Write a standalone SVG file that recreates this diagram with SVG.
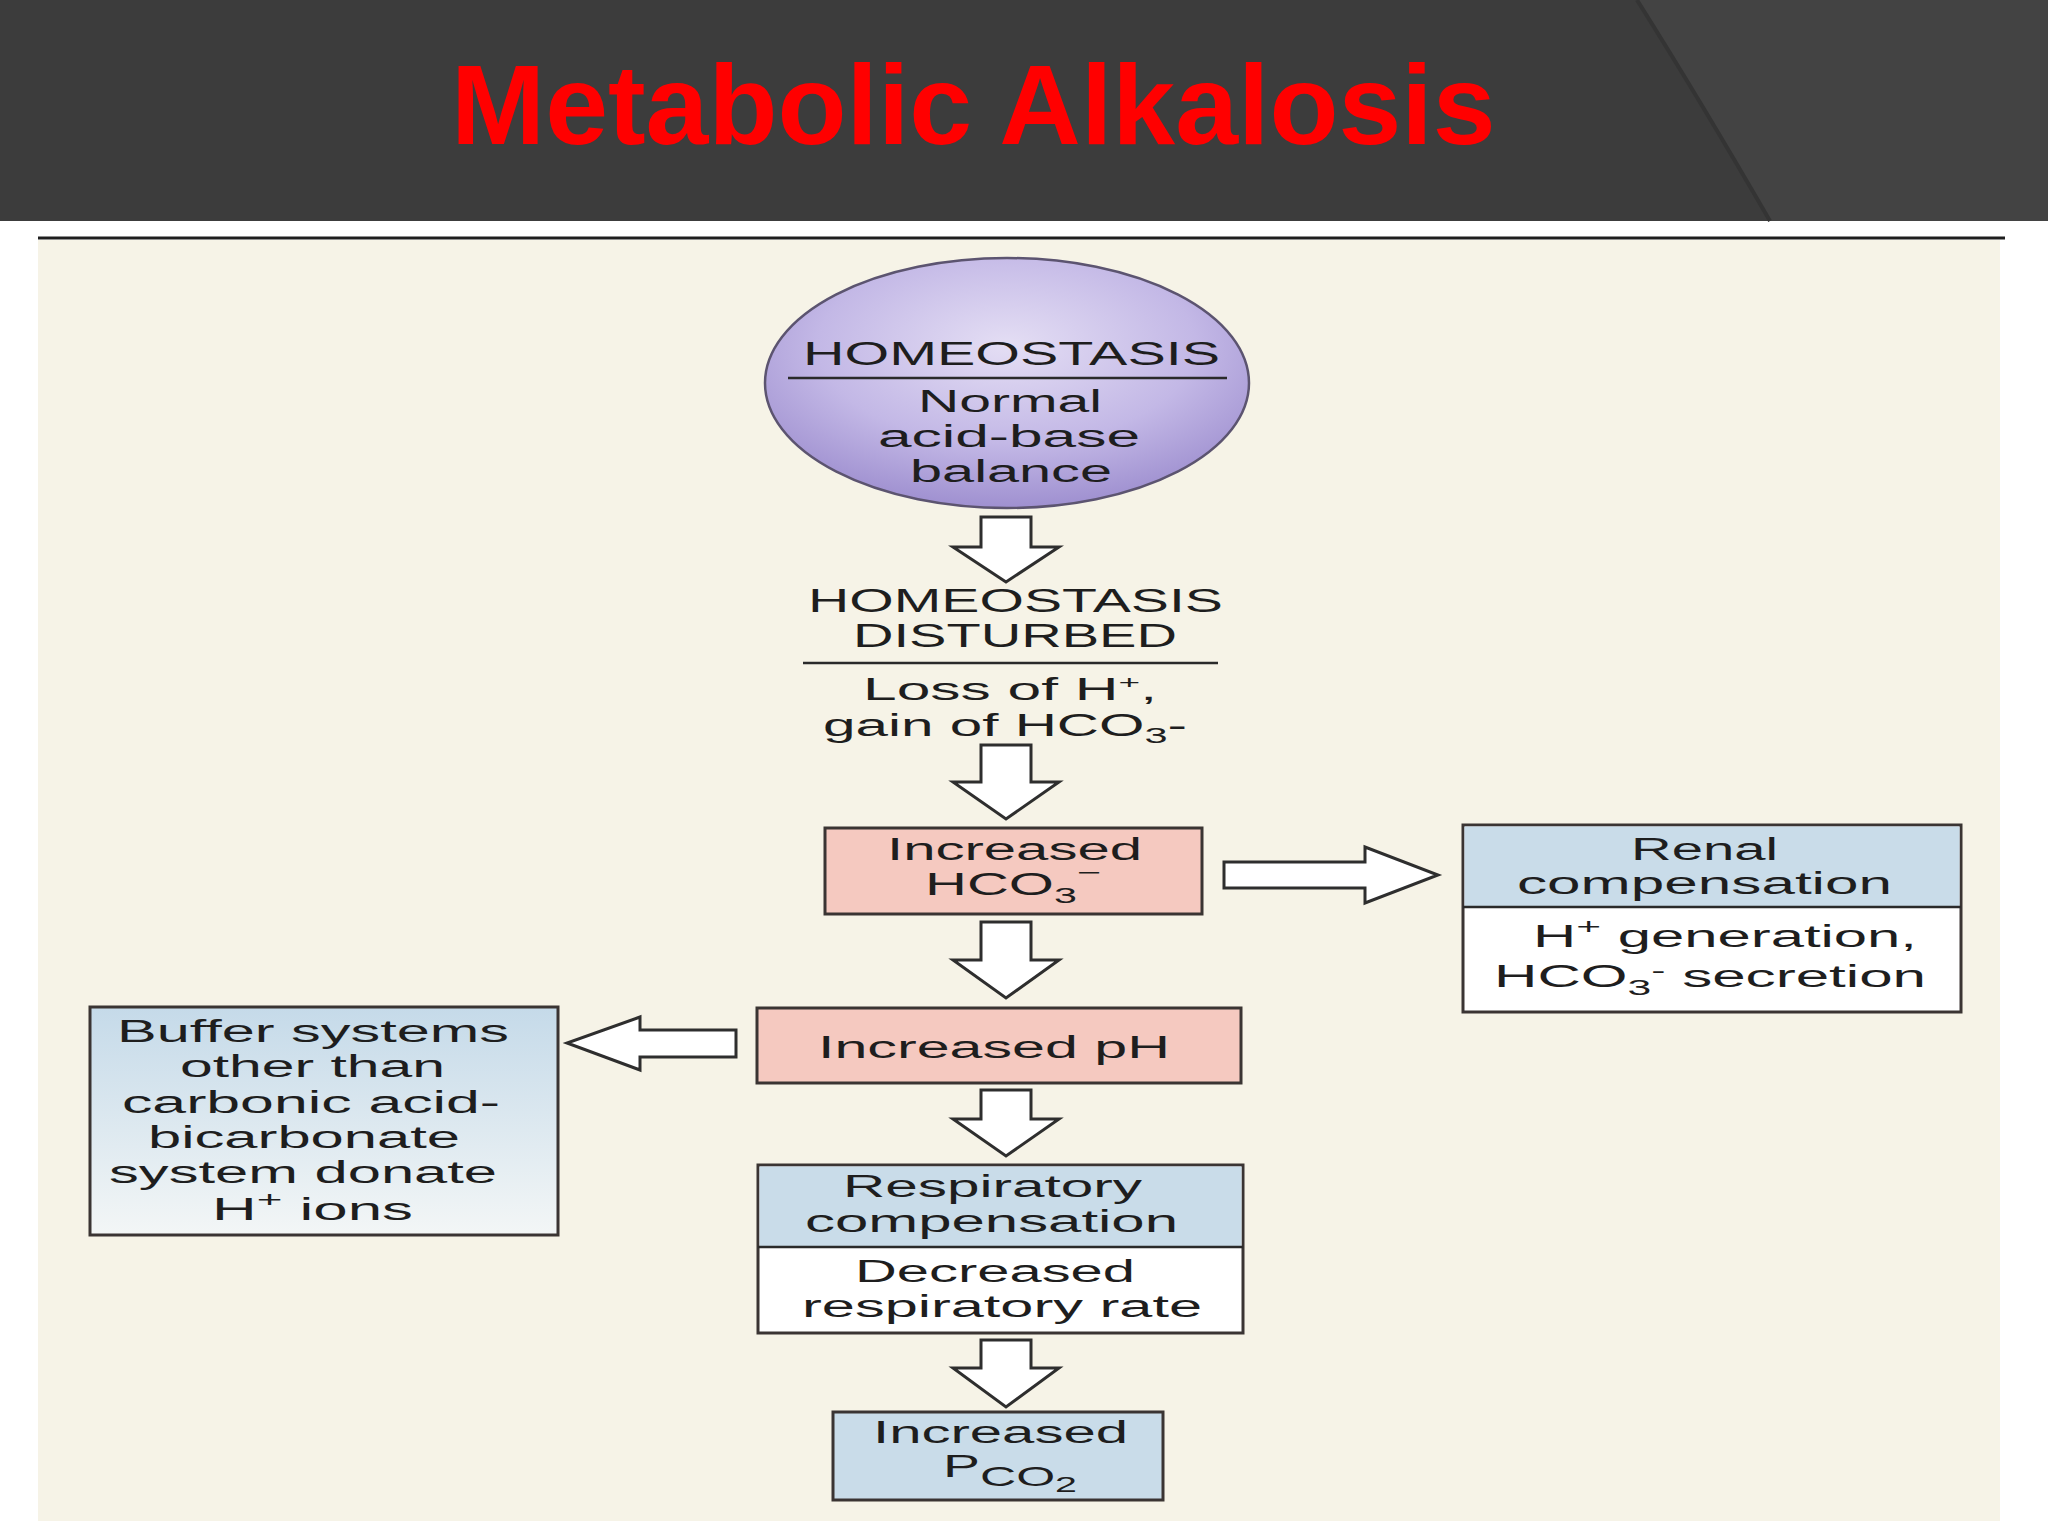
<svg xmlns="http://www.w3.org/2000/svg" width="2048" height="1536" viewBox="0 0 2048 1536">
<defs>
<radialGradient id="ellG" cx="50%" cy="35%" r="65%">
<stop offset="0" stop-color="#e4def4"/>
<stop offset="0.6" stop-color="#c3b8e6"/>
<stop offset="1" stop-color="#9f90d0"/>
</radialGradient>
<linearGradient id="bufG" x1="0" y1="0" x2="0" y2="1">
<stop offset="0" stop-color="#c5dae9"/>
<stop offset="1" stop-color="#f3f6f6"/>
</linearGradient>
<style>
.t{font-family:"Liberation Sans",Arial,sans-serif;font-size:31px;fill:#1e1e1e;text-anchor:start}
.h{font-size:34px}
.box{stroke:#3a3433;stroke-width:3}
.pink{fill:#f5c9c0}
.blue{fill:#c9dce9}
.white{fill:#ffffff}
.arr{fill:#ffffff;stroke:#2e2e2e;stroke-width:3;stroke-linejoin:miter}
.div{stroke:#2a2a2a;stroke-width:2.5}
</style>
</defs>
<rect x="0" y="0" width="2048" height="1536" fill="#ffffff"/>
<g id="header">
<rect x="0" y="0" width="2048" height="221" fill="#3c3c3c"/>
<path d="M1637,0 Q1700,100 1770,221 L2048,221 L2048,0 Z" fill="#434343"/>
<path d="M1637,0 Q1700,100 1770,221" fill="none" stroke="#343434" stroke-width="4"/>
<text x="451" y="144" font-family="'Liberation Sans',Arial,sans-serif" font-weight="bold" font-size="113" fill="#ff0000">Metabolic Alkalosis</text>
</g>
<line x1="38" y1="238" x2="2005" y2="238" stroke="#1e1e1e" stroke-width="3"/>
<rect x="38" y="240" width="1962" height="1281" fill="#f6f3e7"/>

<g id="homeostasis">
<ellipse cx="1007" cy="383" rx="242" ry="125" fill="url(#ellG)" stroke="#5c5470" stroke-width="2.5"/>
<line class="div" x1="788" y1="378" x2="1227" y2="378"/>
<text class="t h" x="803" y="365" textLength="417" lengthAdjust="spacingAndGlyphs">HOMEOSTASIS</text>
<text class="t" x="918" y="412" textLength="184" lengthAdjust="spacingAndGlyphs">Normal</text>
<text class="t" x="878" y="447" textLength="262" lengthAdjust="spacingAndGlyphs">acid-base</text>
<text class="t" x="910" y="482" textLength="202" lengthAdjust="spacingAndGlyphs">balance</text>
</g>

<g id="disturbed">
<text class="t h" x="808" y="612" textLength="415" lengthAdjust="spacingAndGlyphs">HOMEOSTASIS</text>
<text class="t h" x="853" y="647" textLength="324" lengthAdjust="spacingAndGlyphs">DISTURBED</text>
<line class="div" x1="803" y1="663" x2="1218" y2="663"/>
<text class="t" x="863" y="700" textLength="294" lengthAdjust="spacingAndGlyphs">Loss of H<tspan dy="-11" font-size="19">+</tspan><tspan dy="11">,</tspan></text>
<text class="t" x="823" y="736" textLength="364" lengthAdjust="spacingAndGlyphs">gain of HCO<tspan dy="7" font-size="22">3</tspan><tspan dy="-7">-</tspan></text>
</g>

<g id="increased-hco3">
<rect class="box pink" x="825" y="828" width="377" height="86"/>
<text class="t" x="887" y="860" textLength="255" lengthAdjust="spacingAndGlyphs">Increased</text>
<text class="t" x="925" y="895" textLength="176" lengthAdjust="spacingAndGlyphs">HCO<tspan dy="8" font-size="22">3</tspan><tspan dy="-23" font-size="22">−</tspan></text>
</g>

<g id="renal">
<rect class="box white" x="1463" y="825" width="498" height="187"/>
<rect x="1464.5" y="826.5" width="495" height="80.5" fill="#c9dce9"/>
<line class="div" x1="1463" y1="907" x2="1961" y2="907"/>
<text class="t" x="1631" y="860" textLength="147" lengthAdjust="spacingAndGlyphs">Renal</text>
<text class="t" x="1517" y="894" textLength="375" lengthAdjust="spacingAndGlyphs">compensation</text>
<text class="t" x="1533" y="947" textLength="384" lengthAdjust="spacingAndGlyphs">H<tspan dy="-13" font-size="22">+</tspan><tspan dy="13"> generation,</tspan></text>
<text class="t" x="1494" y="987" textLength="432" lengthAdjust="spacingAndGlyphs">HCO<tspan dy="8" font-size="22">3</tspan><tspan dy="-17" font-size="22">-</tspan><tspan dy="9"> secretion</tspan></text>
</g>

<g id="increased-ph">
<rect class="box pink" x="757" y="1008" width="484" height="75"/>
<text class="t" x="818" y="1058" textLength="352" lengthAdjust="spacingAndGlyphs">Increased pH</text>
</g>

<g id="buffer">
<rect class="box" fill="url(#bufG)" x="90" y="1007" width="468" height="228"/>
<text class="t" x="117" y="1042" textLength="392" lengthAdjust="spacingAndGlyphs">Buffer systems</text>
<text class="t" x="180" y="1077" textLength="265" lengthAdjust="spacingAndGlyphs">other than</text>
<text class="t" x="122" y="1113" textLength="378" lengthAdjust="spacingAndGlyphs">carbonic acid-</text>
<text class="t" x="148" y="1148" textLength="312" lengthAdjust="spacingAndGlyphs">bicarbonate</text>
<text class="t" x="109" y="1183" textLength="388" lengthAdjust="spacingAndGlyphs">system donate</text>
<text class="t" x="212" y="1220" textLength="201" lengthAdjust="spacingAndGlyphs">H<tspan dy="-13" font-size="22">+</tspan><tspan dy="13"> ions</tspan></text>
</g>

<g id="respiratory">
<rect class="box white" x="758" y="1165" width="485" height="168"/>
<rect x="759.5" y="1166.5" width="482" height="80.5" fill="#c9dce9"/>
<line class="div" x1="758" y1="1247" x2="1243" y2="1247"/>
<text class="t" x="843" y="1197" textLength="299" lengthAdjust="spacingAndGlyphs">Respiratory</text>
<text class="t" x="805" y="1232" textLength="373" lengthAdjust="spacingAndGlyphs">compensation</text>
<text class="t" x="855" y="1282" textLength="280" lengthAdjust="spacingAndGlyphs">Decreased</text>
<text class="t" x="802" y="1317" textLength="400" lengthAdjust="spacingAndGlyphs">respiratory rate</text>
</g>

<g id="increased-pco2">
<rect class="box blue" x="833" y="1412" width="330" height="88"/>
<text class="t" x="873" y="1443" textLength="255" lengthAdjust="spacingAndGlyphs">Increased</text>
<text class="t" x="943" y="1477" textLength="134" lengthAdjust="spacingAndGlyphs">P<tspan dy="9" font-size="28">CO</tspan><tspan dy="6" font-size="22">2</tspan></text>
</g>

<g id="connectors">
<polygon class="arr" points="981,517 1031,517 1031,547 1059,547 1006,582 953,547 981,547"/>
<polygon class="arr" points="981,745 1031,745 1031,782 1059,782 1006,819 953,782 981,782"/>
<polygon class="arr" points="981,922 1031,922 1031,960 1059,960 1006,998 953,960 981,960"/>
<polygon class="arr" points="981,1090 1031,1090 1031,1119 1059,1119 1006,1156 953,1119 981,1119"/>
<polygon class="arr" points="981,1340 1031,1340 1031,1368 1059,1368 1006,1407 953,1368 981,1368"/>
<polygon class="arr" points="1224,862 1365,862 1365,847 1438,875 1365,903 1365,888 1224,888"/>
<polygon class="arr" points="736,1030 640,1030 640,1017 567,1043 640,1070 640,1057 736,1057"/>
</g>
</svg>
